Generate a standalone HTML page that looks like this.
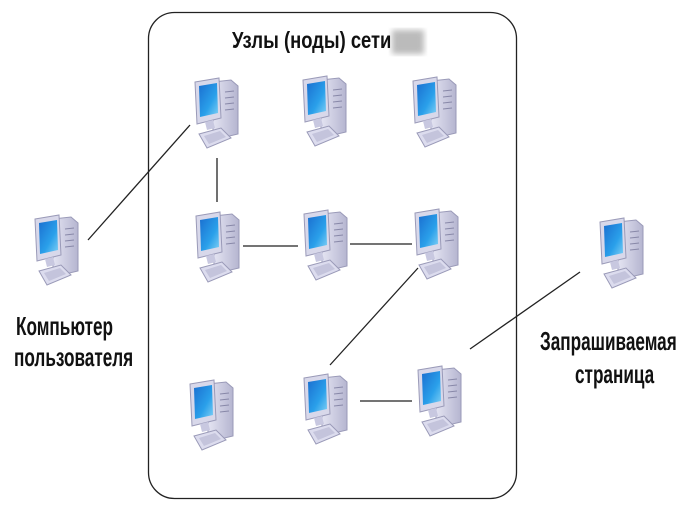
<!DOCTYPE html>
<html><head><meta charset="utf-8"><style>
body{margin:0;background:#fff;width:687px;height:515px;overflow:hidden}
.t{position:absolute;font-family:"Liberation Sans","Noto Sans CJK SC",sans-serif;font-weight:bold;color:#111;white-space:nowrap;transform-origin:0 0}
</style></head><body>
<svg width="687" height="515" style="position:absolute;left:0;top:0">
<defs>
<linearGradient id="scr" x1="0" y1="0" x2="1" y2="1"><stop offset="0" stop-color="#1a6fd0"/><stop offset="0.6" stop-color="#2aa0ea"/><stop offset="1" stop-color="#7fd0f5"/></linearGradient>
<linearGradient id="case" x1="0" y1="0" x2="1" y2="0"><stop offset="0" stop-color="#e4e4f2"/><stop offset="1" stop-color="#b5b5d0"/></linearGradient>
<g id="pc">
<path d="M20 4 L38 2 L45 8 L45 56 L28 60 L20 52 Z" fill="url(#case)" stroke="#9a9ab8" stroke-width="1"/>
<line x1="32" y1="14" x2="41" y2="13" stroke="#8888a8"/><line x1="32" y1="20" x2="41" y2="19" stroke="#8888a8"/><line x1="32" y1="26" x2="41" y2="25" stroke="#8888a8"/><line x1="32" y1="32" x2="41" y2="31" stroke="#8888a8"/>
<path d="M2 4 L26 0 L28 40 L4 46 Z" fill="#d8d8ea" stroke="#9a9ab8"/>
<path d="M6 8 L24 5 L25 35 L7 39 Z" fill="url(#scr)"/>
<path d="M12 44 L20 42 L22 50 L14 52 Z" fill="#c8c8e0"/>
<path d="M6 56 L28 50 L38 60 L14 70 Z" fill="#dcdcee" stroke="#9a9ab8"/>
<path d="M11 58 L27 53 L33 59 L16 66 Z" fill="#c4c4dc"/>
</g>
<filter id="bl"><feGaussianBlur stdDeviation="3"/></filter>
</defs>
<rect x="148.5" y="12.5" width="368" height="486" rx="26" fill="none" stroke="#222" stroke-width="1.3"/>
<rect x="392" y="30" width="32" height="24" fill="#bbb" filter="url(#bl)"/>
<g stroke="#222" stroke-width="1.3">
<line x1="88" y1="240" x2="190" y2="125"/>
<line x1="217" y1="158" x2="217" y2="202"/>
<line x1="243" y1="246" x2="298" y2="246"/>
<line x1="350" y1="244" x2="412" y2="244"/>
<line x1="418" y1="268" x2="330" y2="365"/>
<line x1="360" y1="401" x2="412" y2="401"/>
<line x1="470" y1="349" x2="580" y2="272"/>
</g>
<use href="#pc" x="193" y="78"/><use href="#pc" x="301" y="76"/><use href="#pc" x="411" y="77"/>
<use href="#pc" x="194" y="212"/><use href="#pc" x="302" y="210"/><use href="#pc" x="413" y="209"/>
<use href="#pc" x="188" y="380"/><use href="#pc" x="302" y="374"/><use href="#pc" x="416" y="366"/>
<use href="#pc" x="33" y="215"/><use href="#pc" x="598" y="218"/>
</svg>
<div class="t" style="left:232px;top:27px;font-size:23px;transform:scaleX(0.8)">Узлы (ноды) сети</div>
<div class="t" style="left:16px;top:311px;font-size:26px;transform:scaleX(0.66)">Компьютер</div>
<div class="t" style="left:14px;top:342px;font-size:26px;transform:scaleX(0.66)">пользователя</div>
<div class="t" style="left:540px;top:326px;font-size:26px;transform:scaleX(0.66)">Запрашиваемая</div>
<div class="t" style="left:575px;top:359px;font-size:26px;transform:scaleX(0.66)">страница</div>
</body></html>
